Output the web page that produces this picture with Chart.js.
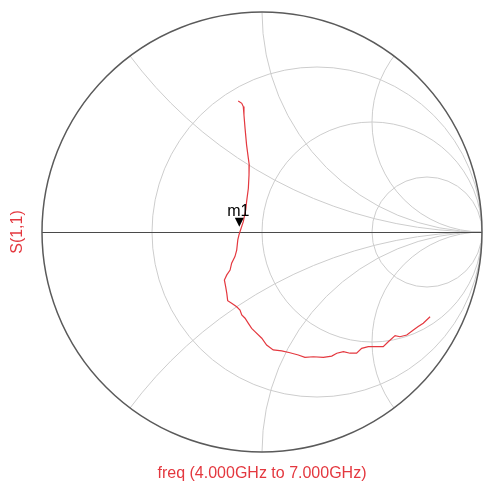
<!DOCTYPE html>
<html>
<head>
<meta charset="utf-8">
<script src="https://cdn.jsdelivr.net/npm/chart.js@4"></script>
<style>
  body { margin: 0; background: #fff; }
  canvas { display: block; }
</style>
</head>
<body>
<canvas id="smith" width="484" height="489"></canvas>
<script>
// S(1,1) trace, reflection coefficient (real / imaginary), 4 GHz -> 7 GHz
const s11Re = [-0.108, -0.092, -0.085, -0.082, -0.077, -0.070, -0.062, -0.058, -0.059, -0.062,
               -0.070, -0.074, -0.085, -0.095, -0.105, -0.110, -0.115, -0.123, -0.138, -0.145,
               -0.160, -0.171, -0.165, -0.160, -0.156, -0.138, -0.115, -0.100, -0.092, -0.077,
               -0.062, -0.047, -0.032, -0.001, 0.021, 0.051, 0.090, 0.127, 0.165, 0.195,
               0.233, 0.279, 0.317, 0.340, 0.370, 0.400, 0.430, 0.453, 0.483, 0.521,
               0.551, 0.574, 0.605, 0.627, 0.658, 0.688, 0.710, 0.733, 0.764];
const s11Im = [0.595, 0.585, 0.570, 0.532, 0.471, 0.395, 0.335, 0.305, 0.259, 0.199,
               0.138, 0.100, 0.047, 0.017, -0.014, -0.036, -0.082, -0.112, -0.142, -0.173,
               -0.195, -0.218, -0.249, -0.279, -0.312, -0.324, -0.340, -0.355, -0.377, -0.392,
               -0.415, -0.438, -0.453, -0.483, -0.514, -0.536, -0.540, -0.549, -0.559, -0.570,
               -0.567, -0.570, -0.564, -0.551, -0.544, -0.551, -0.551, -0.529, -0.521, -0.521,
               -0.521, -0.499, -0.471, -0.476, -0.468, -0.445, -0.430, -0.415, -0.385];

// marker m1
const markerName = 'm1';
const markerRe = -0.103;
const markerIm = 0.024;

// smith grid values
const resistanceCircles = [1 / 3, 1, 3];
const reactanceArcs = [0.5, 1, 2];

const traceLabel = 'S(1,1)';
const sweepLabel = 'freq (4.000GHz to 7.000GHz)';

const RED = '#e4383f';

const points = s11Re.map((re, i) => ({ x: re, y: s11Im[i] }));

const smithGrid = {
  id: 'smithGrid',
  beforeDatasetsDraw(chart) {
    const { ctx, scales: { x, y } } = chart;
    const px = v => x.getPixelForValue(v);
    const py = v => y.getPixelForValue(v);
    const unit = px(1) - px(0);
    const cx = px(0), cy = py(0);

    ctx.save();
    ctx.beginPath();
    ctx.arc(cx, cy, unit, 0, Math.PI * 2);
    ctx.clip();

    ctx.strokeStyle = '#cdcdcd';
    ctx.lineWidth = 1;
    resistanceCircles.forEach(r => {
      ctx.beginPath();
      ctx.arc(px(r / (1 + r)), cy, unit / (1 + r), 0, Math.PI * 2);
      ctx.stroke();
    });
    reactanceArcs.forEach(xv => {
      [1, -1].forEach(s => {
        ctx.beginPath();
        ctx.arc(px(1), py(s / xv), unit / xv, 0, Math.PI * 2);
        ctx.stroke();
      });
    });
    ctx.restore();

    // real axis
    ctx.save();
    ctx.strokeStyle = '#4a4a4a';
    ctx.lineWidth = 1;
    ctx.beginPath();
    ctx.moveTo(px(-1), Math.round(cy) + 0.5);
    ctx.lineTo(px(1), Math.round(cy) + 0.5);
    ctx.stroke();

    // outer circle
    ctx.strokeStyle = '#5a5a5a';
    ctx.lineWidth = 1.5;
    ctx.beginPath();
    ctx.arc(cx, cy, unit, 0, Math.PI * 2);
    ctx.stroke();
    ctx.restore();
  },
  afterDatasetsDraw(chart) {
    const { ctx, chartArea, scales: { x, y } } = chart;
    const mx = x.getPixelForValue(markerRe);
    const my = y.getPixelForValue(markerIm);

    ctx.save();
    ctx.fillStyle = '#000';
    ctx.beginPath();
    ctx.moveTo(mx, my);
    ctx.lineTo(mx - 4.5, my - 9);
    ctx.lineTo(mx + 4.5, my - 9);
    ctx.closePath();
    ctx.fill();

    ctx.font = '16px "Liberation Sans", Arial, sans-serif';
    ctx.textAlign = 'center';
    ctx.textBaseline = 'alphabetic';
    ctx.fillText(markerName, mx - 1, my - 11);

    ctx.fillStyle = RED;
    ctx.textBaseline = 'middle';
    ctx.fillText(sweepLabel, (chartArea.left + chartArea.right) / 2, chartArea.bottom + 22);

    ctx.translate(18, (chartArea.top + chartArea.bottom) / 2);
    ctx.rotate(-Math.PI / 2);
    ctx.fillText(traceLabel, 0, 0);
    ctx.restore();
  }
};

new Chart(document.getElementById('smith'), {
  type: 'scatter',
  data: {
    datasets: [{
      label: traceLabel,
      data: points,
      showLine: true,
      borderColor: RED,
      borderWidth: 1.2,
      pointRadius: 0,
      tension: 0
    }]
  },
  options: {
    responsive: false,
    animation: false,
    layout: { padding: { left: 42, right: 2, top: 12, bottom: 37 } },
    plugins: {
      legend: { display: false },
      tooltip: { enabled: false }
    },
    scales: {
      x: { type: 'linear', min: -1, max: 1, display: false },
      y: { type: 'linear', min: -1, max: 1, display: false }
    }
  },
  plugins: [smithGrid]
});
</script>
</body>
</html>
